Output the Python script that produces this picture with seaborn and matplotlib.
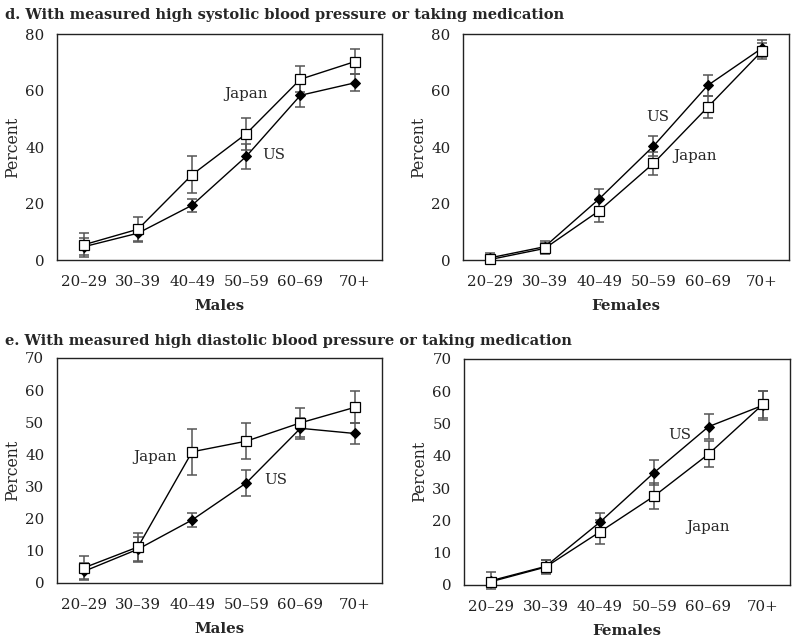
import numpy as np
import pandas as pd
import matplotlib
matplotlib.use("Agg")
import matplotlib.pyplot as plt
import seaborn as sns

sns.set_style("white")
plt.rcParams["font.family"] = ["DejaVu Serif", "Liberation Serif"]

# Data
ages = ["20–29", "30–39", "40–49", "50–59", "60–69", "70+"]

# d. systolic
sys_m_japan = [5.4, 10.9, 30.2, 44.7, 64.0, 70.2]
sys_m_japan_err = [4.2, 4.5, 6.6, 5.6, 4.6, 4.4]
sys_m_us = [4.7, 9.5, 19.4, 36.7, 58.3, 62.7]
sys_m_us_err = [3.0, 2.8, 2.3, 4.4, 4.0, 3.0]

sys_f_japan = [0.2, 4.1, 17.4, 34.2, 54.1, 74.0]
sys_f_japan_err = [1.0, 2.0, 4.0, 4.2, 4.0, 2.7]
sys_f_us = [0.8, 4.7, 21.6, 40.3, 61.8, 75.0]
sys_f_us_err = [1.6, 2.0, 3.5, 3.5, 3.6, 3.0]

# e. diastolic
dia_m_japan = [4.7, 11.2, 40.8, 44.1, 49.8, 54.6]
dia_m_japan_err = [3.8, 4.3, 7.1, 5.5, 4.5, 5.0]
dia_m_us = [3.6, 10.5, 19.6, 31.1, 48.1, 46.5]
dia_m_us_err = [2.5, 3.9, 2.2, 4.0, 3.2, 3.4]

dia_f_japan = [1.0, 5.5, 16.4, 27.5, 40.5, 55.9]
dia_f_japan_err = [1.0, 2.2, 3.7, 4.0, 4.0, 4.3]
dia_f_us = [1.3, 5.7, 19.4, 34.8, 49.0, 55.6]
dia_f_us_err = [2.6, 2.0, 3.0, 3.9, 3.8, 4.5]

panels = [
    # rect, japan, japan_err, us, us_err, ymax, xlabel, japan label pos, us label pos
    ([0.071, 0.595, 0.406, 0.352], sys_m_japan, sys_m_japan_err, sys_m_us, sys_m_us_err,
     80, "Males", (3.0, 58.8), (3.5, 37.2)),
    ([0.579, 0.595, 0.4075, 0.352], sys_f_japan, sys_f_japan_err, sys_f_us, sys_f_us_err,
     80, "Females", (3.77, 36.8), (3.09, 50.6)),
    ([0.071, 0.092, 0.406, 0.3505], dia_m_japan, dia_m_japan_err, dia_m_us, dia_m_us_err,
     70, "Males", (1.32, 39.2), (3.55, 32.0)),
    ([0.58, 0.089, 0.4075, 0.352], dia_f_japan, dia_f_japan_err, dia_f_us, dia_f_us_err,
     70, "Females", (3.99, 18.0), (3.47, 46.4)),
]

FS = 10.8

fig = plt.figure(figsize=(8, 6.42), dpi=100)

for rect, jp, jp_err, us, us_err, ymax, xlab, jpos, upos in panels:
    ax = fig.add_axes(rect)
    x = np.arange(len(ages))
    df = pd.DataFrame({"x": np.concatenate([x, x]),
                       "y": us + jp,
                       "country": ["US"] * len(x) + ["Japan"] * len(x)})

    # error bars
    for vals, errs in [(us, us_err), (jp, jp_err)]:
        ax.errorbar(x, vals, yerr=errs, fmt="none", ecolor="#555555",
                    elinewidth=1.1, capsize=3.5, capthick=1.1, zorder=2,
                    clip_on=False)

    sns.lineplot(data=df[df.country == "US"], x="x", y="y", ax=ax, color="black",
                 lw=1, marker="D", markersize=5, markerfacecolor="black",
                 markeredgecolor="black", zorder=3, clip_on=False)
    sns.lineplot(data=df[df.country == "Japan"], x="x", y="y", ax=ax, color="black",
                 lw=1, marker="s", markersize=7, markerfacecolor="white",
                 markeredgecolor="black", markeredgewidth=0.9, zorder=4,
                 clip_on=False)

    ax.set_xlim(-0.5, 5.5)
    ax.set_ylim(0, ymax)
    ax.set_xticks(x)
    ax.set_xticklabels(ages)
    ax.set_yticks(np.arange(0, ymax + 1, 10 if ymax == 70 else 20))
    ax.tick_params(axis="x", direction="in", length=7, width=1, pad=11,
                   labelsize=FS, color="#333333", labelcolor="#222222")
    ax.tick_params(axis="y", length=0, pad=9, labelsize=FS, labelcolor="#222222")
    for sp in ax.spines.values():
        sp.set_visible(True)
        sp.set_color("#222222")
        sp.set_linewidth(1)
    ax.set_xlabel(xlab, fontsize=FS, fontweight="bold", labelpad=7)
    ax.set_ylabel("Percent", fontsize=FS + 0.5, labelpad=3)

    ax.text(jpos[0], jpos[1], "Japan", fontsize=FS, ha="center", va="center")
    ax.text(upos[0], upos[1], "US", fontsize=FS, ha="center", va="center")

fig.text(0.006, 0.977, "d. With measured high systolic blood pressure or taking medication",
         fontsize=10.5, fontweight="bold", ha="left", va="center")
fig.text(0.006, 0.469, "e. With measured high diastolic blood pressure or taking medication",
         fontsize=10.5, fontweight="bold", ha="left", va="center")

fig.savefig("out.png", dpi=100)
